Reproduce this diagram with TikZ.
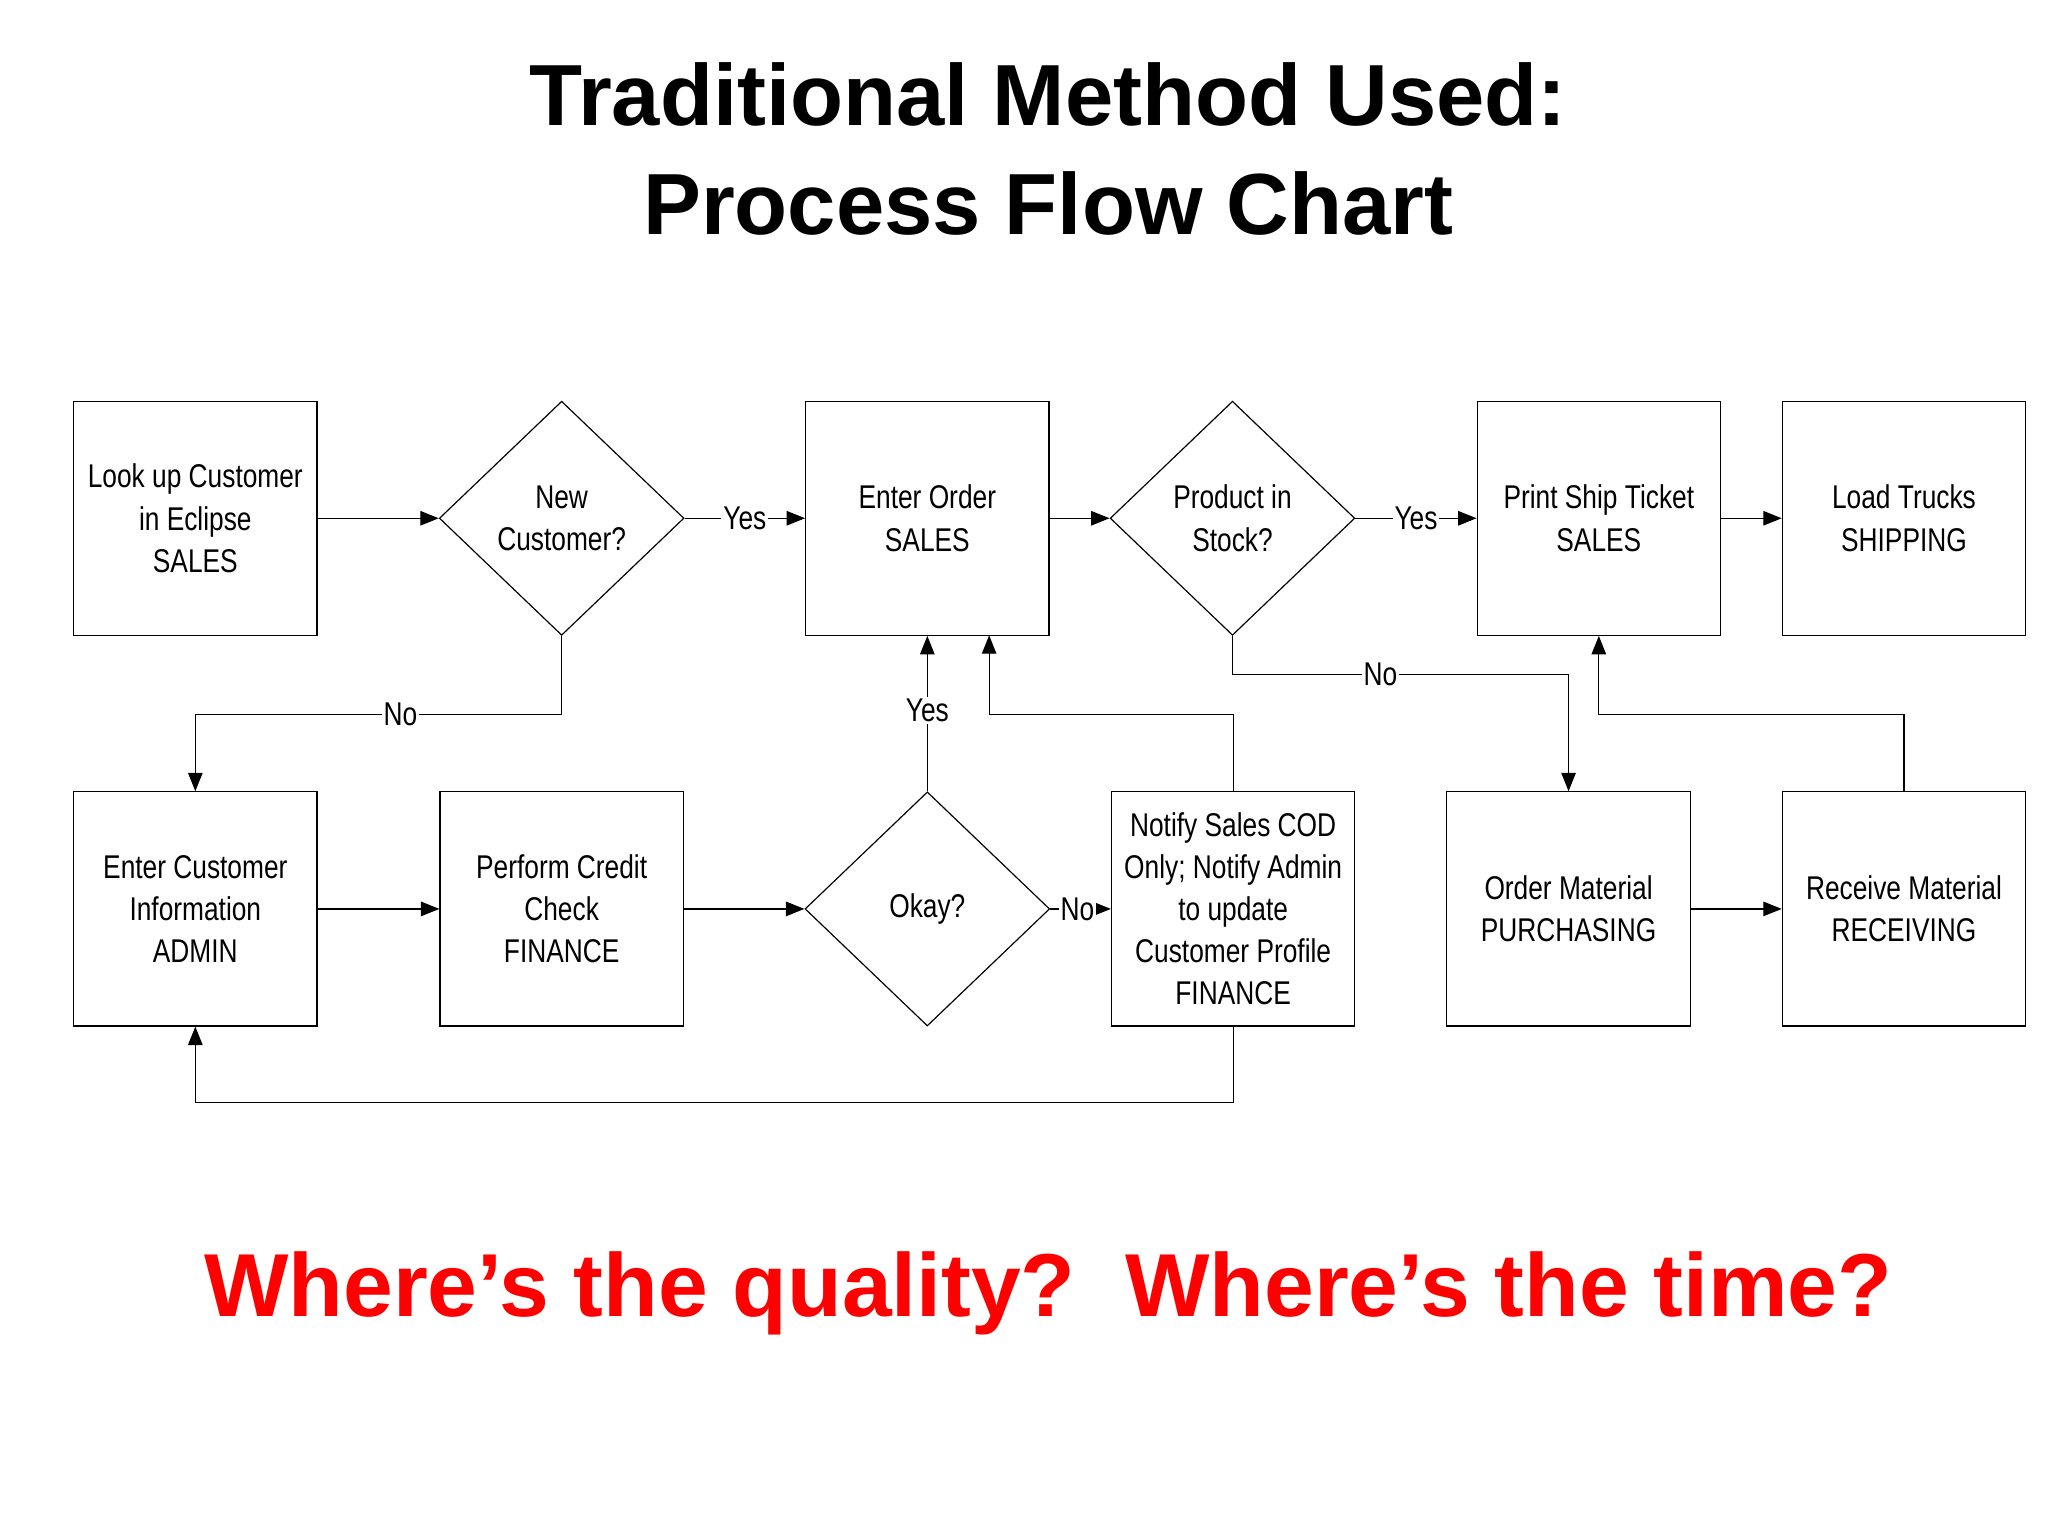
\documentclass[tikz,border=0pt]{standalone}
\usepackage{fontspec}
\setmainfont{Liberation Sans}
\newfontfamily\narrowfont[FakeStretch=0.80]{Liberation Sans}
\usetikzlibrary{shapes.geometric,arrows.meta}
\begin{document}
\begin{tikzpicture}[x=1pt,y=-1pt,
  box/.style={draw,line width=0.9pt,minimum width=185pt,minimum height=178pt,align=center,font=\narrowfont\fontsize{25}{32}\selectfont,inner sep=0pt},
  dia/.style={draw,line width=0.9pt,diamond,minimum width=186pt,minimum height=178pt,align=center,font=\narrowfont\fontsize{25}{32}\selectfont,inner sep=0pt},
  lbl/.style={fill=white,inner sep=1.5pt,font=\narrowfont\fontsize{25}{30}\selectfont},
  conn/.style={line width=0.9pt,-{Triangle[length=14pt,width=11pt]}}]
\useasboundingbox (0,0) rectangle (1557,1168);
\fill[white] (0,0) rectangle (1557,1168);
\node[font=\bfseries\fontsize{66}{80}\selectfont] (t1) at (797,72) {Traditional Method Used:};
\node[font=\bfseries\fontsize{66}{80}\selectfont] (t2) at (797,155) {Process Flow Chart};
\node[font=\bfseries\fontsize{68}{80}\selectfont,text={rgb,255:red,255;green,0;blue,0}] (q) at (797,983) {Where’s the quality?\ \ Where’s the time?};
\node[box] (look) at (148.5,394) {Look up Customer\\in Eclipse\\SALES};
\node[dia] (new) at (427,394) {New\\Customer?};
\node[box] (order) at (705,394) {Enter Order\\SALES};
\node[dia] (stock) at (937,394) {Product in\\Stock?};
\node[box] (print) at (1215.5,394) {Print Ship Ticket\\SALES};
\node[box] (load) at (1447.5,394) {Load Trucks\\SHIPPING};
\node[box] (cust) at (148.5,691) {Enter Customer\\Information\\ADMIN};
\node[box] (credit) at (427,691) {Perform Credit\\Check\\FINANCE};
\node[dia] (okay) at (705,691) {Okay?};
\node[box] (notify) at (937.5,691) {Notify Sales COD\\Only; Notify Admin\\to update\\Customer Profile\\FINANCE};
\node[box] (omat) at (1192.5,691) {Order Material\\PURCHASING};
\node[box] (recv) at (1447.5,691) {Receive Material\\RECEIVING};
\draw[conn] (look) -- (new);
\draw[conn] (new) -- node[lbl]{Yes} (order);
\draw[conn] (new.south) |- (148.5,543) node[lbl,pos=0.72]{No} -- (cust.north);
\draw[conn] (order) -- (stock);
\draw[conn] (stock) -- node[lbl]{Yes} (print);
\draw[conn] (stock.south) |- (1192.5,513) node[lbl,pos=0.72]{No} -- (omat.north);
\draw[conn] (print) -- (load);
\draw[conn] (cust) -- (credit);
\draw[conn] (credit) -- (okay);
\draw[conn] (okay) -- node[lbl,pos=0.45]{No} (notify);
\draw[conn] (okay.north) -- node[lbl,pos=0.52]{Yes} (order.south);
\draw[conn] (notify.north) |- (752,543) -- (752,483);
\draw[conn] (notify.south) |- (148.5,838) -- (cust.south);
\draw[conn] (omat) -- (recv);
\draw[conn] (recv.north) |- (1215.5,543) -- (print.south);
\end{tikzpicture}
\end{document}
